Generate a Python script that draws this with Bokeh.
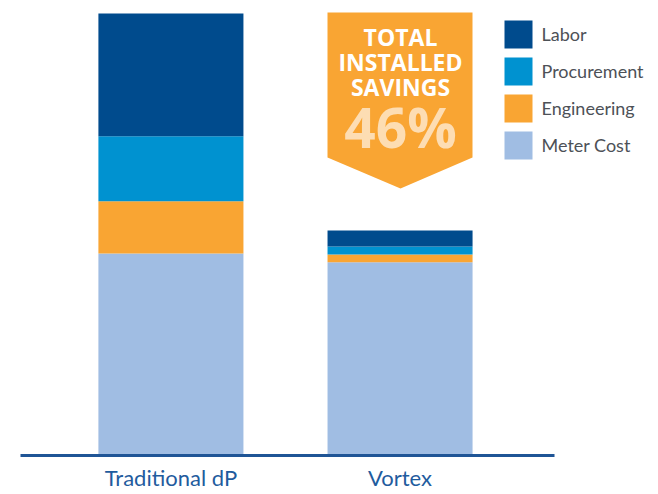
from bokeh.plotting import figure
from bokeh.models import ColumnDataSource, Range1d, FixedTicker
from bokeh.core.properties import value
from bokeh.embed import file_html
from bokeh.resources import INLINE

# ---- data (share of Traditional dP total installed cost, %) ----
categories = ["Traditional dP", "Vortex"]
components = ["Meter Cost", "Engineering", "Procurement", "Labor"]  # bottom -> top
meter_cost = [45.7, 43.7]
engineering = [11.8, 1.8]
procurement = [14.7, 1.8]
labor = [27.8, 3.6]
colors = ["#A0BDE3", "#F9A533", "#0092D0", "#004B8D"]
badge_lines = ["TOTAL", "INSTALLED", "SAVINGS"]
badge_value = "46%"

W, H = 658, 494
FRAME_H = 455
X0, X1 = -0.7438, 2.128
PX_PER_UNIT = W / (X1 - X0)

src = ColumnDataSource(dict(
    x=list(range(len(categories))),
    **{"Meter Cost": meter_cost, "Engineering": engineering,
       "Procurement": procurement, "Labor": labor}))

p = figure(width=W, height=H, x_range=Range1d(X0, X1),
           y_range=Range1d(0, 102.94), output_backend="svg",
           toolbar_location=None, min_border=0, min_border_bottom=H - FRAME_H)
p.extra_x_ranges = {"px": Range1d(0, W)}
p.extra_y_ranges = {"px": Range1d(FRAME_H, 0)}
p.outline_line_color = None
p.xgrid.visible = False
p.ygrid.visible = False
p.yaxis.visible = False
p.background_fill_color = "white"
p.border_fill_color = "white"

p.vbar_stack(components, x="x", width=0.633, source=src, color=colors,
             line_color=None)

ax = p.xaxis[0]
ax.ticker = FixedTicker(ticks=list(range(len(categories))))
ax.major_label_overrides = {i: c for i, c in enumerate(categories)}
ax.bounds = (X0 + 20 / PX_PER_UNIT, X0 + 554 / PX_PER_UNIT)
ax.axis_line_color = "#1F5596"
ax.axis_line_width = 3
ax.major_tick_line_color = None
ax.major_tick_out = 0
ax.major_tick_in = 0
ax.minor_tick_line_color = None
ax.minor_tick_out = 0
ax.major_label_text_font = "Lato"
ax.major_label_text_font_size = "22px"
ax.major_label_text_color = "#1F5C9E"
ax.major_label_standoff = 8

# badge
p.patch(x=[327, 472, 472, 400, 327], y=[12, 12, 157, 188, 157],
        fill_color="#F9A533", line_color=None,
        x_range_name="px", y_range_name="px")
p.text(x=[400] * 3, y=[36, 61, 86], text=badge_lines,
       text_font=value("Open Sans"), text_font_style="bold",
       text_font_size="23px", text_color="white", text_align="center",
       text_baseline="middle", x_range_name="px", y_range_name="px")
p.text(x=[400], y=[126], text=[badge_value],
       text_font=value("Open Sans"), text_font_style="bold",
       text_font_size="55px", text_color="#FDDDB3", text_align="center",
       text_baseline="middle", x_range_name="px", y_range_name="px")

# legend (top -> bottom)
leg_names = components[::-1]
leg_colors = colors[::-1]
leg_y = [34, 71, 108, 145]
p.rect(x=[518] * 4, y=leg_y, width=28, height=28, fill_color=leg_colors,
       line_color=None, width_units="screen", height_units="screen",
       x_range_name="px", y_range_name="px")
p.text(x=[541] * 4, y=[v - 1 for v in leg_y], text=leg_names,
       text_font=value("Lato"), text_font_size="18px", text_color="#4D5157",
       text_baseline="middle", x_range_name="px", y_range_name="px")

open("out.html", "w").write(file_html(p, INLINE))
